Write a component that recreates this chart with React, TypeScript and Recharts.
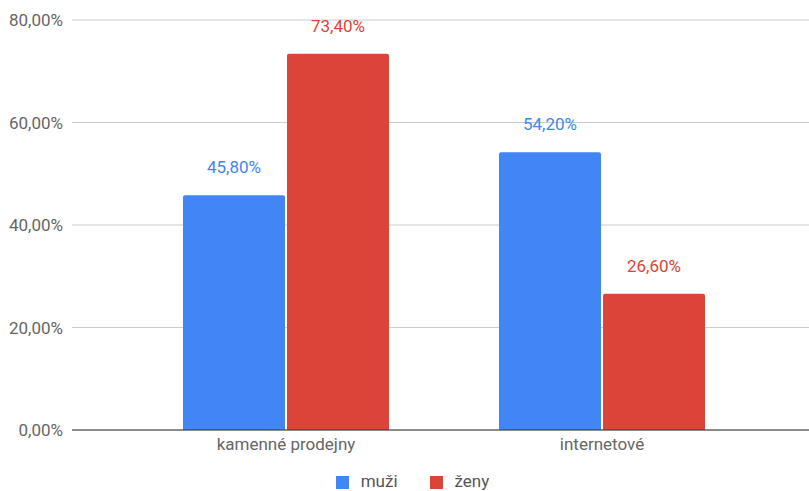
import React from "react";
import { BarChart, Bar, XAxis, YAxis, CartesianGrid, Legend, LabelList } from "recharts";

const categories = ["kamenné prodejny", "internetové"];
const muzi = [45.8, 54.2];
const zeny = [73.4, 26.6];
const yTicks = [0, 20, 40, 60, 80];

const data = categories.map((name, i) => ({ name, muzi: muzi[i], zeny: zeny[i] }));

const fmt = (v: number) => v.toFixed(2).replace(".", ",") + "%";
const FONT = "Roboto, sans-serif";
const FS = 17;

export default function App() {
  return (
    <div style={{ position: "absolute", left: 0, top: 0, fontFamily: FONT }}>
      <BarChart
        width={809}
        height={491}
        data={data}
        margin={{ top: 20, right: 0, bottom: 0, left: 0 }}
        barSize={102}
        barGap={2}
      >
        <CartesianGrid vertical={false} stroke="#cccccc" />
        <XAxis
          dataKey="name"
          padding={{ left: 56, right: 49 }}
          axisLine={{ stroke: "#333333" }}
          tickLine={false}
          tick={{ fill: "#666666", fontSize: FS, fontFamily: FONT }}
          tickMargin={2}
          height={41}
        />
        <YAxis
          domain={[0, 80]}
          ticks={yTicks}
          tickFormatter={fmt}
          axisLine={false}
          tickLine={false}
          width={72}
          tickMargin={3}
          tick={{ fill: "#666666", fontSize: FS, fontFamily: FONT }}
        />
        <Legend
          verticalAlign="bottom"
          iconType="square"
          iconSize={13}
          wrapperStyle={{ fontSize: FS, fontFamily: FONT, paddingLeft: 13 }}
          formatter={(value, _entry, index) => (
            <span style={{ color: "#555555", marginLeft: 8, marginRight: index === 0 ? 22 : 0 }}>{value}</span>
          )}
        />
        <Bar dataKey="muzi" name="muži" fill="#4285F4" radius={[2, 2, 0, 0]} isAnimationActive={false}>
          <LabelList dataKey="muzi" position="top" offset={22} formatter={fmt} fill="#4285F4" fontSize={FS} fontFamily={FONT} />
        </Bar>
        <Bar dataKey="zeny" name="ženy" fill="#DB4437" radius={[2, 2, 0, 0]} isAnimationActive={false}>
          <LabelList dataKey="zeny" position="top" offset={22} formatter={fmt} fill="#DB4437" fontSize={FS} fontFamily={FONT} />
        </Bar>
      </BarChart>
    </div>
  );
}
